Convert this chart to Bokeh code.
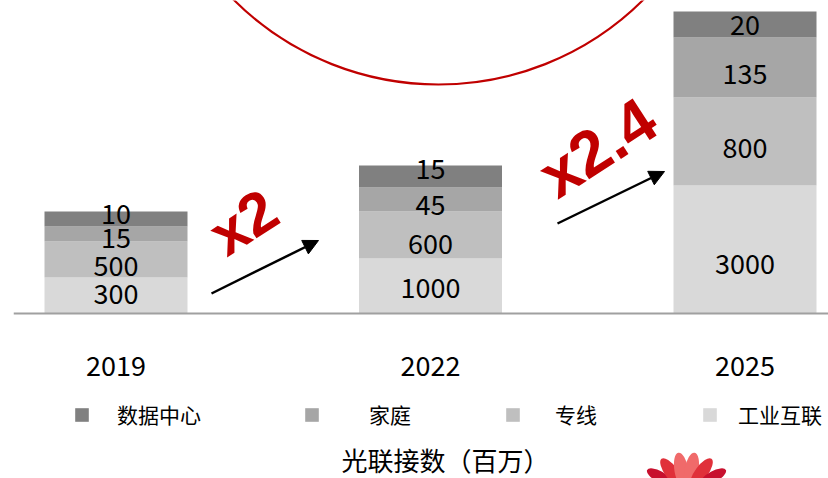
import numpy as np
from bokeh.plotting import figure
from bokeh.models import (ColumnDataSource, Range1d, Span, Arrow, NormalHead,
                          Label, Legend, LegendItem)
from bokeh.core.properties import value
from bokeh.embed import file_html
from bokeh.resources import INLINE

# ---------------- data ----------------
years = ["2019", "2022", "2025"]
series = ["工业互联", "专线", "家庭", "数据中心"]          # bottom -> top
industrial = [300, 1000, 3000]
leased = [500, 600, 800]
home = [15, 45, 135]
datacenter = [10, 15, 20]
# drawn segment heights (the original chart is not to scale)
industrial_h = [36, 55, 128]
leased_h = [36, 47, 88]
home_h = [15, 24, 60]
datacenter_h = [15, 22, 26]
multipliers = ["x2", "x2.4"]
title_text = "光联接数（百万）"

# ---------------- styles / positions ----------------
colors = ["#D9D9D9", "#BFBFBF", "#A6A6A6", "#808080"]
CJK = "Noto Sans CJK SC"
# vertical nudges of the segment labels (px, downwards), per series
label_nudge = [[-2, 1.5, 14], [6.5, 8.5, 6], [3.5, 5.5, 6], [-5.5, -8, 0]]

STEP = 314.5           # px per category step
C0 = 115.5             # page x of first bar centre
BASE = 313             # page y of baseline


def dx(page_x):
    return (page_x - C0) / STEP


def dy(page_y):
    return BASE - page_y


p = figure(width=828, height=478,
           x_range=Range1d(dx(13), dx(828)), y_range=Range1d(dy(478), dy(0)),
           output_backend="svg", toolbar_location=None,
           x_axis_location=None, y_axis_location=None,
           min_border=0, min_border_left=13, outline_line_color=None)
p.grid.visible = False
p.background_fill_color = "white"
p.border_fill_color = "white"

xs = list(range(len(years)))
src = ColumnDataSource(dict(x=xs, ind=industrial_h, lea=leased_h,
                            home=home_h, dc=datacenter_h))
stack = ["ind", "lea", "home", "dc"]
rends = p.vbar_stack(stack, x="x", width=143 / STEP, fill_color=colors,
                     line_color=None, source=src)

# segment labels
vals = [industrial, leased, home, datacenter]
hts = [industrial_h, leased_h, home_h, datacenter_h]
lx, ly, lt = [], [], []
bottom = np.zeros(len(years))
for v, h, nd in zip(vals, hts, label_nudge):
    h = np.array(h, dtype=float)
    for i in range(len(years)):
        lx.append(xs[i])
        ly.append(bottom[i] + h[i] / 2 - nd[i])
        lt.append(str(v[i]))
    bottom += h
p.text(x=lx, y=ly, text=lt, text_align="center", text_baseline="middle",
       text_font=value(CJK), text_font_size="27px", text_color="#000000")

# year labels
p.text(x=xs, y=[dy(365)] * 3, text=years, text_align="center",
       text_baseline="middle", text_font=value(CJK), text_font_size="27px",
       text_color="#000000")

# baseline
p.add_layout(Span(location=0, dimension="width", line_color="#A0A0A0",
                  line_width=2))

# big red circle (decoration)
p.circle(x=[dx(438)], y=[dy(-206)], radius=290, radius_dimension="y",
         fill_color=None, line_color="#C00000", line_width=2.2)

# growth arrows
arrows = [((211, 293), (318, 240)), ((557, 223), (664, 171))]
for (sx, sy), (ex, ey) in arrows:
    p.add_layout(Arrow(x_start=dx(sx), y_start=dy(sy), x_end=dx(ex), y_end=dy(ey),
                       line_color="black", line_width=2.5,
                       end=NormalHead(size=15, fill_color="black",
                                      line_color="black")))

# multipliers
mult_pos = [((215, 240), 33, "60px"), ((545, 181), 33, "64px")]
for t, ((px, py), ang, fs) in zip(multipliers, mult_pos):
    p.add_layout(Label(x=dx(px), y=dy(py), text=t, angle=ang, angle_units="deg",
                       text_font="Liberation Sans", text_font_style="bold",
                       text_font_size=fs, text_color="#C00000",
                       text_align="left", text_baseline="alphabetic"))

# legends (one per series to match the uneven spacing)
leg_x = [60, 290, 491, 688]
leg_so = [27, 49, 34, 20]
order = [3, 2, 1, 0]
for k, lxp, so in zip(order, leg_x, leg_so):
    leg = Legend(items=[LegendItem(label=value(series[k]), renderers=[rends[k]])],
                 location=(lxp, 49), orientation="horizontal",
                 padding=0, margin=0, spacing=0,
                 glyph_width=17, glyph_height=17, label_standoff=so,
                 label_text_font=CJK, label_text_font_size="21px",
                 label_text_color="#000000", label_height=17,
                 border_line_color=None, background_fill_alpha=0)
    p.add_layout(leg)

# title
p.text(x=[dx(445)], y=[dy(459)], text=[title_text], text_align="center",
       text_baseline="middle", text_font=value(CJK), text_font_size="26px",
       text_color="#000000")

# logo petals (decoration, bottom-right corner)
pet = [(-27, 476, -62, 28, 11), (-15, 472, -36, 34, 13), (-5, 470, -10, 36, 14),
       (5, 470, 10, 36, 14), (15, 472, 36, 34, 13), (27, 476, 62, 28, 11)]
p.ellipse(x=[dx(686 + a[0]) for a in pet], y=[dy(a[1]) for a in pet],
          width=[a[3] for a in pet], height=[a[4] for a in pet],
          angle=[90 - a[2] for a in pet], angle_units="deg",
          width_units="screen", height_units="screen",
          fill_color=["#C8102E", "#E0303A", "#F06A6A", "#F06A6A", "#E0303A", "#C8102E"],
          line_color=None)

open("out.html", "w").write(file_html(p, INLINE))
